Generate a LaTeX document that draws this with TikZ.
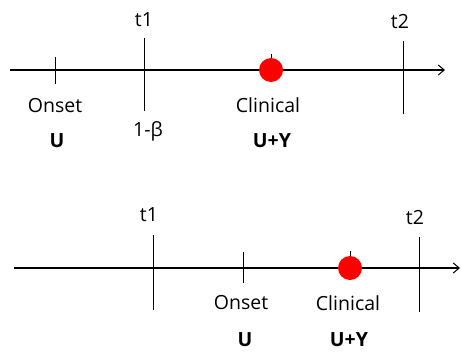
\documentclass[tikz,border=0pt]{standalone}
\usepackage{fontspec}
\setmainfont{Open Sans}
\usetikzlibrary{arrows.meta}
\begin{document}
\begin{tikzpicture}[x=1pt,y=-1pt,
  axisline/.style={line width=1.1pt,-{Straight Barb[length=6pt,width=10pt,line width=1pt]}},
  mark line/.style={line width=0.9pt},
  event/.style={circle,fill=red,minimum size=24pt,inner sep=0pt},
  lbl/.style={font=\fontsize{19.5}{22}\selectfont,inner sep=0pt},
  blbl/.style={font=\fontsize{19.5}{22}\selectfont\bfseries,inner sep=0pt}]
\useasboundingbox (0,0) rectangle (462,351);

% ---- upper timeline ----
\coordinate (a1s) at (10,70);
\coordinate (a1e) at (445,70);
\coordinate (on1t) at (55,57);  \coordinate (on1b) at (55,84);
\coordinate (t1at) at (144,38); \coordinate (t1ab) at (144,111);
\coordinate (t2at) at (403,41); \coordinate (t2ab) at (403,114);
\coordinate (cl1t) at (271,54);
\draw[axisline] (a1s) -- (a1e);
\draw[mark line] (on1t) -- (on1b);
\draw[mark line] (t1at) -- (t1ab);
\draw[mark line] (t2at) -- (t2ab);
\node[event] (cl1) at (271,70) {};
\draw[mark line] (cl1t) -- (cl1.north);
\node[lbl] (t1a) at (144,20) {t1};
\node[lbl] (t2a) at (400,22) {t2};
\node[lbl] (onsa) at (55,106) {Onset};
\node[blbl] (ua) at (57,141) {U};
\node[lbl] (beta) at (148,131) {1-β};
\node[lbl] (clina) at (268,105) {Clinical};
\node[blbl] (uya) at (272,141) {U+Y};

% ---- lower timeline ----
\coordinate (a2s) at (14,268);
\coordinate (a2e) at (460,268);
\coordinate (on2t) at (243,252); \coordinate (on2b) at (243,283);
\coordinate (t1bt) at (153,235); \coordinate (t1bb) at (153,310);
\coordinate (t2bt) at (419,237); \coordinate (t2bb) at (419,312);
\coordinate (cl2t) at (350,251);
\draw[axisline] (a2s) -- (a2e);
\draw[mark line] (on2t) -- (on2b);
\draw[mark line] (t1bt) -- (t1bb);
\draw[mark line] (t2bt) -- (t2bb);
\node[event] (cl2) at (350,268) {};
\draw[mark line] (cl2t) -- (cl2.north);
\node[lbl] (t1b) at (149,215) {t1};
\node[lbl] (t2b) at (415,218) {t2};
\node[lbl] (onsb) at (241,303) {Onset};
\node[blbl] (ub) at (245,340) {U};
\node[lbl] (clinb) at (348,303) {Clinical};
\node[blbl] (uyb) at (349,340) {U+Y};
\end{tikzpicture}
\end{document}
